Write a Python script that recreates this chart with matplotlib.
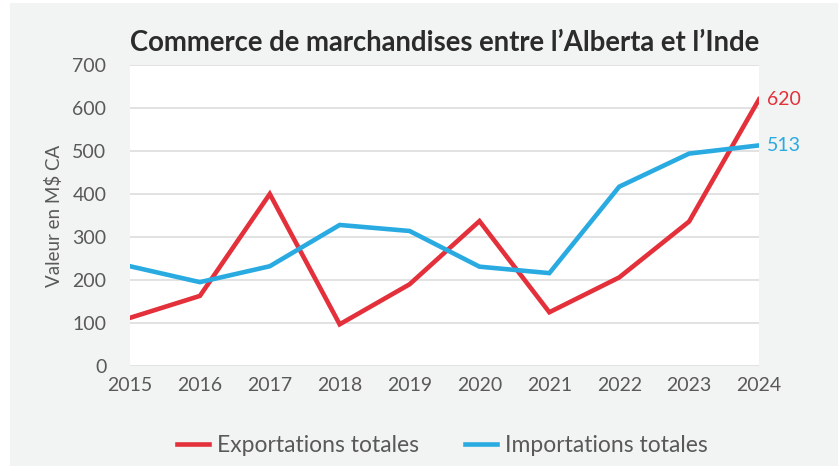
import matplotlib.pyplot as plt
from matplotlib.patches import Rectangle
from matplotlib.lines import Line2D

years = [2015, 2016, 2017, 2018, 2019, 2020, 2021, 2022, 2023, 2024]
exports = [112, 163, 400, 97, 190, 337, 125, 206, 336, 620]
imports = [232, 195, 232, 328, 314, 231, 216, 417, 494, 513]
yticks = [0, 100, 200, 300, 400, 500, 600, 700]

RED = '#E3303A'
BLUE = '#29ABE2'
TEXT = '#595959'

plt.rcParams['font.family'] = ['Lato', 'DejaVu Sans']

fig = plt.figure(figsize=(8.38, 4.67), dpi=100)
fig.patch.set_facecolor('white')
fig.patches.append(Rectangle((10 / 838, 1 / 467), 828 / 838, 463 / 467,
                             transform=fig.transFigure, facecolor='#F2F3F3',
                             edgecolor='none', zorder=-5))

ax = fig.add_axes([130 / 838, 101 / 467, 629 / 838, 301 / 467])
ax.set_facecolor('white')

ax.plot(years, exports, color=RED, lw=3.3, solid_joinstyle='miter', zorder=3)
ax.plot(years, imports, color=BLUE, lw=3.3, solid_joinstyle='miter', zorder=3)

ax.set_xlim(years[0], years[-1])
ax.set_ylim(0, 700)
ax.set_xticks(years)
ax.set_yticks(yticks)
ax.tick_params(length=0, labelsize=14, labelcolor=TEXT)
ax.tick_params(axis='y', pad=17)
ax.tick_params(axis='x', pad=8)
ax.grid(axis='y', color='#DDDDDD', lw=1.2, zorder=1)
for s in ax.spines.values():
    s.set_visible(False)
ax.set_axisbelow(True)

ax.set_ylabel('Valeur en M$ CA', fontsize=13.5, color=TEXT, labelpad=7)

ax.annotate(str(exports[-1]), (years[-1], exports[-1]), xytext=(6, 0),
            textcoords='offset points', color=RED, fontsize=14, va='center')
ax.annotate(str(imports[-1]), (years[-1], imports[-1]), xytext=(6, 0),
            textcoords='offset points', color=BLUE, fontsize=14, va='center')

fig.text(0.530, 0.907, 'Commerce de marchandises entre l\u2019Alberta et l\u2019Inde',
         ha='center', va='center', fontsize=19.8, fontweight='bold', color='#2B2B2B')

handles = [Line2D([], [], color=RED, lw=3.3), Line2D([], [], color=BLUE, lw=3.3)]
fig.legend(handles, ['Exportations totales', 'Importations totales'],
           loc='center', bbox_to_anchor=(0.528, 0.045), ncol=2, frameon=False,
           fontsize=16.5, labelcolor=TEXT, handlelength=1.4, columnspacing=2.0,
           handletextpad=0.35)

fig.savefig('out.png', dpi=100)
